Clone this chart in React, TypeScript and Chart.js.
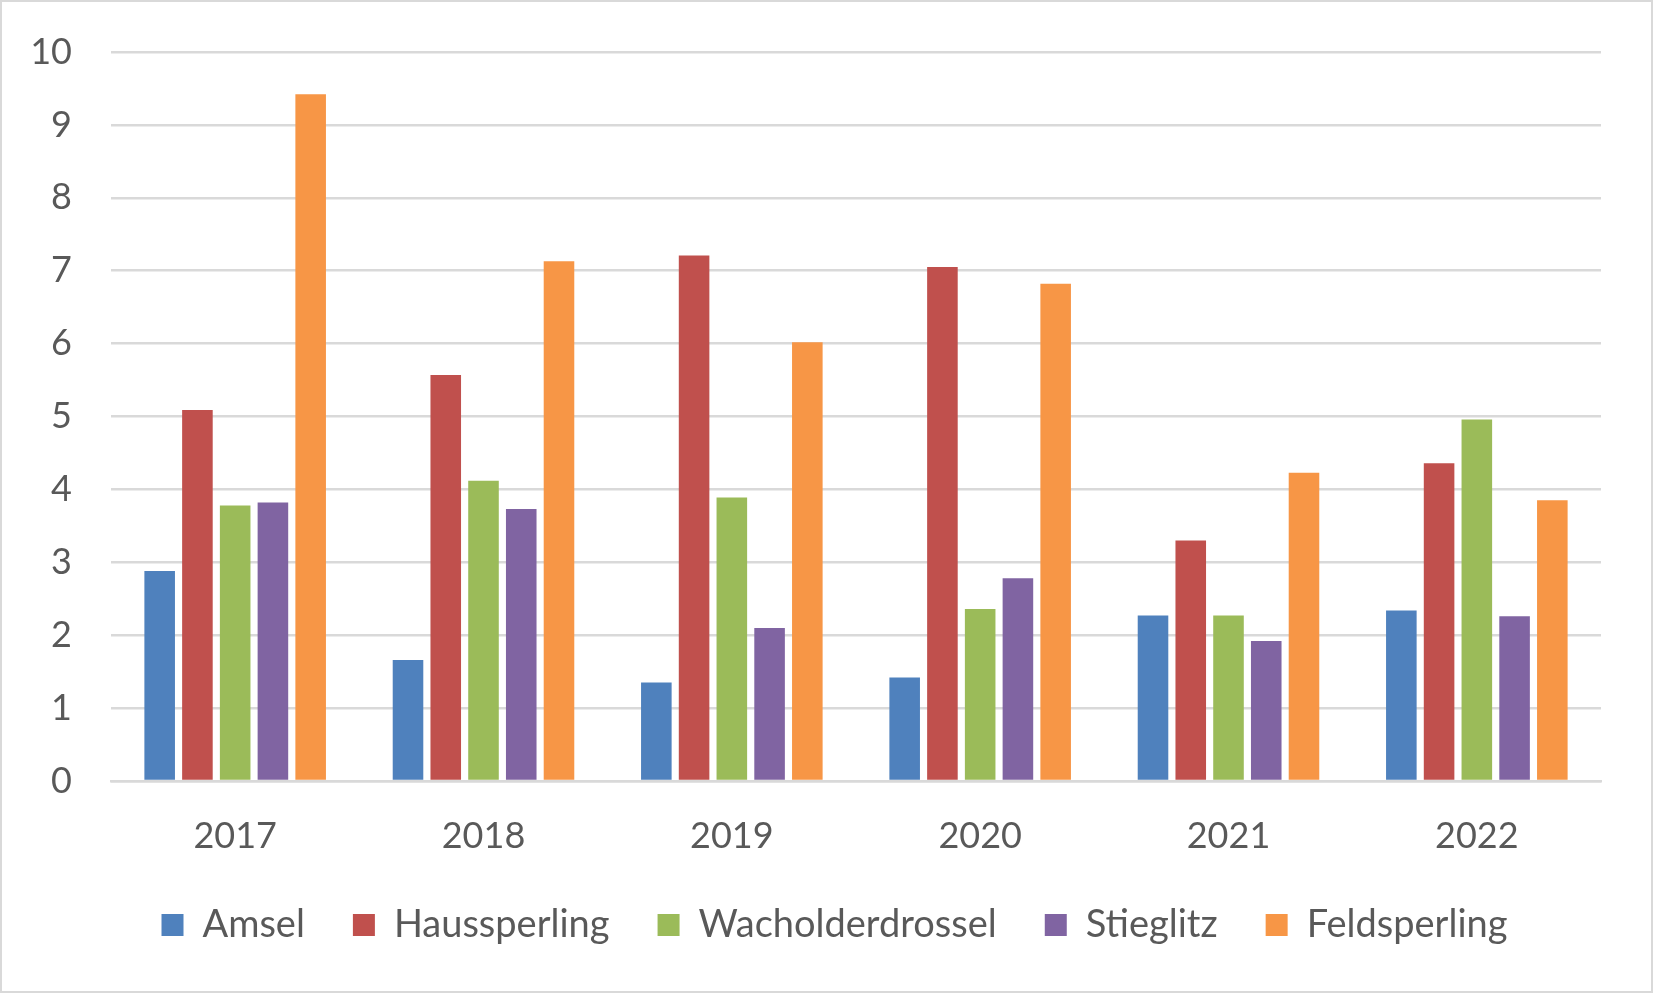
import React, { useEffect, useRef } from "react";
import { Chart, registerables } from "chart.js";

Chart.register(...registerables);

const years = ["2017", "2018", "2019", "2020", "2021", "2022"];
const seriesNames = ["Amsel", "Haussperling", "Wacholderdrossel", "Stieglitz", "Feldsperling"];
const amsel = [2.88, 1.66, 1.35, 1.42, 2.27, 2.34];
const haussperling = [5.09, 5.57, 7.21, 7.05, 3.3, 4.36];
const wacholderdrossel = [3.78, 4.12, 3.89, 2.36, 2.27, 4.96];
const stieglitz = [3.82, 3.73, 2.1, 2.78, 1.92, 2.26];
const feldsperling = [9.42, 7.13, 6.02, 6.82, 4.23, 3.85];
const colors = ["#4F81BD", "#C0504D", "#9BBB59", "#8064A2", "#F79646"];
const yTicks = [0, 1, 2, 3, 4, 5, 6, 7, 8, 9, 10];

const W = 1653;
const H = 993;
const FONT = "Lato, 'Open Sans', sans-serif";
const TEXT = "#595959";
const GRID = "#D9D9D9";

const legendShift = {
  id: "legendShift",
  afterLayout(chart: any) {
    if (chart.legend) {
      chart.legend.left += 34;
      chart.legend.right += 34;
    }
  },
};

export default function App() {
  const ref = useRef<HTMLCanvasElement | null>(null);
  useEffect(() => {
    document.body.style.margin = "0";
    const values = [amsel, haussperling, wacholderdrossel, stieglitz, feldsperling];
    const chart = new Chart(ref.current as HTMLCanvasElement, {
      type: "bar",
      data: {
        labels: years,
        datasets: seriesNames.map((n, i) => ({
          label: n,
          data: values[i],
          backgroundColor: colors[i],
          borderWidth: 0,
          categoryPercentage: 0.76,
          barPercentage: 0.81,
        })),
      },
      plugins: [legendShift],
      options: {
        animation: false,
        responsive: false,
        devicePixelRatio: 1,
        layout: { padding: { top: 52, left: 0, right: 52, bottom: 39 } },
        plugins: {
          tooltip: { enabled: false },
          legend: {
            position: "bottom",
            labels: {
              color: TEXT,
              font: { family: FONT, size: 38 },
              boxWidth: 22,
              boxHeight: 22,
              padding: 48,
            },
          },
        },
        scales: {
          x: {
            grid: { display: false },
            border: { color: GRID, width: 2.5 },
            ticks: { color: TEXT, font: { family: FONT, size: 36 }, padding: 26 },
            afterFit: (s: any) => {
              s.height = 77;
            },
          },
          y: {
            min: 0,
            max: 10,
            afterBuildTicks: (s: any) => {
              s.ticks = yTicks.map((v) => ({ value: v }));
            },
            grid: { color: GRID, lineWidth: 2.5, drawTicks: false },
            border: { display: false },
            ticks: { color: TEXT, font: { family: FONT, size: 36 }, padding: 39 },
            afterFit: (s: any) => {
              s.width = 111;
              s.paddingTop = 20;
              s.paddingBottom = 0;
            },
          },
        },
      },
    });
    return () => chart.destroy();
  }, []);
  return (
    <div style={{ position: "relative", width: W, height: H, background: "#fff" }}>
      <canvas ref={ref} width={W} height={H} style={{ display: "block" }} />
      <div
        style={{
          position: "absolute",
          left: 0,
          top: 0,
          width: W,
          height: H,
          boxSizing: "border-box",
          border: "2px solid #D9D9D9",
          pointerEvents: "none",
        }}
      />
    </div>
  );
}
